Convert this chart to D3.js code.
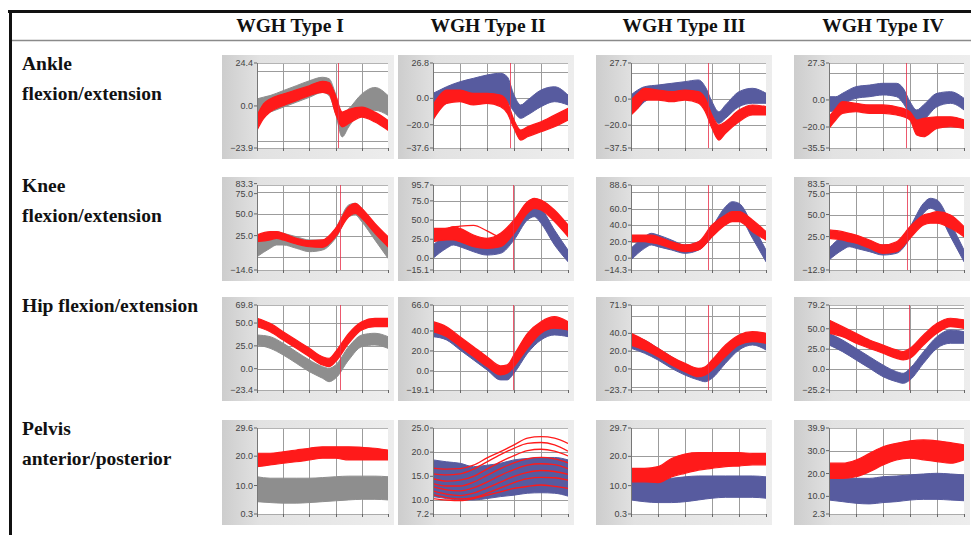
<!DOCTYPE html>
<html>
<head>
<meta charset="utf-8">
<script src="https://cdn.jsdelivr.net/npm/d3@7"></script>
<style>
  body { margin: 0; background: #fff; }
  svg { display: block; }
</style>
</head>
<body>
<div id="chart"></div>
<script>
// headings
var types = ["WGH Type I", "WGH Type II", "WGH Type III", "WGH Type IV"];
var joints = [["Ankle", "flexion/extension"], ["Knee", "flexion/extension"], ["Hip flexion/extension"], ["Pelvis", "anterior/posterior"]];

// % of gait cycle where each joint was sampled
var ankleX = [0, 5, 10, 20, 30, 40, 50, 55, 60, 65, 70, 80, 90, 100];
var kneeX = [0, 10, 15, 20, 30, 40, 50, 60, 70, 75, 80, 90, 100];
var hipX = [0, 10, 20, 30, 40, 50, 55, 60, 70, 80, 90, 100];
var pelvisX = [0, 10, 20, 30, 40, 50, 60, 70, 80, 90, 100];

// y range of every panel (min, max), one per type
var ankleDomain = [[-23.9, 24.4], [-37.6, 26.8], [-37.5, 27.7], [-35.5, 27.3]];
var kneeDomain = [[-14.6, 83.3], [-15.1, 95.7], [-14.3, 88.6], [-12.9, 83.5]];
var hipDomain = [[-23.4, 69.8], [-19.1, 66.0], [-23.7, 71.9], [-25.2, 79.2]];
var pelvisDomain = [[0.3, 29.6], [7.2, 25.0], [0.3, 29.7], [2.3, 39.9]];

// tick labels shown on the y axis
var ankleTicks = [[-23.9, 0, 24.4], [-37.6, -20, 0, 26.8], [-37.5, -20, 0, 27.7], [-35.5, -20, 0, 27.3]];
var kneeTicks = [[-14.6, 25, 50, 75, 83.3], [-15.1, 0, 25, 50, 75, 95.7], [-14.3, 0, 20, 40, 60, 88.6], [-12.9, 25, 50, 75, 83.5]];
var hipTicks = [[-23.4, 0, 25, 50, 69.8], [-19.1, 0, 20, 40, 66.0], [-23.7, 0, 20, 40, 71.9], [-25.2, 0, 25, 50, 79.2]];
var pelvisTicks = [[0.3, 10, 20, 29.6], [7.2, 10, 15, 20, 25.0], [0.3, 10, 20, 29.7], [2.3, 10, 20, 30, 39.9]];

// grid spacing
var ankleGrid = [20, 20, 20, 20];
var kneeGrid = [25, 25, 20, 25];
var hipGrid = [25, 20, 20, 25];
var pelvisGrid = [10, 5, 10, 10];

// normal reference band (lower / upper edge)
var ankleNormLo = [
  [-6, -5, -3.5, -0.7, 2.1, 4.9, 7.7, 5.9, -4.4, -17.6, -11.9, -3.5, -2.5, -5.3],
  [-8.8, -6.3, -3.8, 0.0, 1.3, 2.5, 1.3, -2.5, -10.1, -15.1, -12.6, -6.3, -2.5, -5.0],
  [-9.7, -7.1, -2.0, 1.9, 3.2, 4.5, 3.2, -2.0, -12.2, -18.6, -14.7, -5.8, -3.2, -3.2],
  [-8.7, -7.5, -3.7, 1.2, 2.4, 3.7, 2.4, -2.5, -11.1, -17.3, -14.8, -5.0, -2.5, -7.4]];
var ankleNormHi = [
  [4, 5, 5.9, 8.7, 11.5, 14.3, 16.3, 15.5, 6.8, -4.4, -1.6, 6.8, 10.5, 5.9],
  [3.8, 6.3, 8.8, 12.6, 15.2, 17.7, 19.0, 16.4, 2.5, -5.0, -1.3, 6.3, 8.8, 2.5],
  [3.2, 7.0, 9.5, 10.8, 12.1, 13.4, 14.7, 9.5, -2.0, -9.7, -4.5, 5.7, 8.3, 4.5],
  [2.4, 2.4, 4.9, 9.8, 11.0, 12.3, 12.3, 8.6, -1.3, -7.4, -3.7, 4.9, 6.1, 1.2]];
var kneeNormLo = [
  [0.7, 10.4, 14.2, 14.2, 10.4, 6.5, 8.4, 21.9, 46.8, 48.7, 41.0, 20.0, -1.1],
  [0.1, 13.2, 17.5, 15.2, 8.7, 4.4, 6.6, 24.0, 50.1, 54.4, 45.8, 17.5, -4.3],
  [-2.2, 11.9, 16.0, 13.9, 9.9, 5.9, 9.9, 26.0, 52.3, 56.3, 52.3, 24.1, -4.3],
  [-1.5, 9.8, 13.5, 11.7, 7.9, 4.1, 6.0, 23.0, 51.4, 57.1, 53.2, 24.9, -3.5]];
var kneeNormHi = [
  [21.9, 27.7, 29.5, 27.7, 23.8, 20.0, 20.0, 33.4, 60.3, 62.2, 56.4, 35.3, 14.2],
  [17.5, 30.5, 34.8, 32.7, 26.2, 21.8, 24.0, 41.3, 67.4, 71.8, 65.3, 37.0, 10.9],
  [11.9, 26.0, 30.1, 28.1, 22.0, 16.0, 19.9, 38.1, 62.3, 68.4, 66.4, 40.2, 9.9],
  [11.7, 24.9, 26.8, 24.9, 19.2, 15.5, 17.4, 36.2, 62.7, 68.4, 66.5, 40.1, 9.8]];
var hipNormLo = [
  [26.0, 22.3, 15.0, 5.9, -3.3, -10.5, -14.3, -10.5, 9.5, 24.1, 26.0, 22.3],
  [34.3, 31.0, 21.0, 11.0, 1.0, -9.0, -9.0, -2.3, 17.7, 31.0, 36.0, 34.3],
  [23.2, 17.6, 10.0, 0.7, -6.9, -12.5, -14.4, -10.6, 6.3, 21.3, 26.9, 21.3],
  [30.1, 21.9, 11.7, 1.5, -8.8, -15.0, -17.0, -12.9, 7.6, 26.0, 32.2, 32.2]];
var hipNormHi = [
  [36.9, 35.1, 27.8, 18.6, 9.5, 2.2, 0.4, 4.0, 24.1, 36.9, 38.8, 35.1],
  [47.7, 42.7, 32.7, 22.7, 12.7, 2.7, 2.7, 11.0, 31.0, 44.3, 47.7, 46.0],
  [38.2, 32.5, 23.2, 13.8, 4.4, -1.2, -1.2, 4.4, 19.4, 34.4, 40.1, 36.3],
  [44.4, 36.2, 26.0, 15.7, 5.5, -2.7, -4.7, 1.5, 21.9, 40.3, 48.5, 46.4]];
var pelvisNormLo = [
  [4.5, 4.2, 4.0, 4.0, 4.2, 4.5, 4.8, 5.1, 5.3, 5.3, 5.1],
  [10.8, 10.4, 10.1, 10.1, 10.4, 10.8, 11.1, 11.5, 11.6, 11.5, 10.9],
  [5.1, 4.5, 4.2, 4.2, 4.5, 5.1, 5.7, 6.0, 6.0, 6.0, 5.7],
  [8.4, 7.7, 7.0, 6.7, 7.3, 7.7, 8.4, 8.7, 8.7, 8.4, 8.1]];
var pelvisNormHi = [
  [13.0, 12.5, 12.5, 12.5, 12.5, 12.7, 13.0, 13.2, 13.2, 13.2, 13.0],
  [18.4, 18.0, 17.7, 17.0, 17.3, 17.7, 18.4, 18.7, 18.9, 18.9, 18.4],
  [12.5, 11.9, 11.9, 12.5, 13.0, 13.3, 13.3, 13.3, 13.3, 13.3, 13.0],
  [18.6, 17.9, 17.9, 17.9, 18.6, 18.9, 19.4, 19.8, 20.1, 19.8, 19.4]];

// WGH subjects, drawn as a red bundle (lower / upper edge)
var ankleRedLo = [
  [-13.8, -7.2, -3.5, 0.2, 3.0, 5.9, 7.7, 6.8, -4.4, -11.9, -10, -6.3, -9.1, -13.8],
  [-16.4, -8.8, -3.8, -2.5, -5.0, -3.8, -6.3, -11.3, -22.7, -31.6, -29.1, -25.3, -21.5, -16.4],
  [-12.2, -7.1, -0.7, -0.7, -2.0, -0.7, -3.2, -9.7, -22.4, -31.4, -26.2, -17.3, -12.2, -12.2],
  [-21.0, -14.8, -9.9, -8.7, -9.9, -9.9, -11.1, -12.4, -14.8, -25.9, -27.2, -21.0, -19.8, -21.0]];
var ankleRedHi = [
  [-5.4, 1.2, 4.0, 6.8, 9.1, 11.5, 14, 13.3, 5.9, -3.5, -2, -0.7, -3.5, -8.2],
  [-5.0, 2.5, 6.3, 6.3, 3.8, 3.8, 2.5, -2.5, -16.4, -24.0, -21.5, -17.7, -12.6, -7.6],
  [-0.7, 4.5, 8.3, 7.0, 5.7, 7.0, 5.7, 0.6, -12.2, -19.9, -17.3, -8.4, -4.5, -5.8],
  [-12.4, -6.2, -1.3, -2.5, -3.7, -3.7, -5.0, -6.2, -8.7, -14.8, -13.6, -12.4, -12.4, -14.8]];
var kneeRedLo = [
  [18.0, 20.0, 21.9, 20.0, 15.3, 12.2, 11.5, 23.8, 46.8, 50.7, 45.0, 27.7, 12.2],
  [21.8, 24.0, 24.0, 21.8, 15.2, 13.2, 15.2, 32.7, 58.8, 65.3, 63.1, 47.9, 28.3],
  [20.0, 20.0, 18.7, 17.2, 11.9, 7.9, 9.9, 26.0, 40.2, 44.2, 44.2, 32.1, 22.0],
  [23.0, 21.1, 19.2, 17.4, 11.7, 6.0, 7.9, 23.0, 38.1, 40.1, 40.1, 34.4, 24.9]];
var kneeRedHi = [
  [25.7, 29.5, 29.5, 27.7, 21.9, 19.2, 20.0, 33.4, 58.3, 62.2, 56.4, 39.2, 23.8],
  [39.2, 39.2, 41.3, 39.2, 30.5, 26.2, 32.7, 50.1, 73.9, 78.3, 76.1, 63.1, 43.5],
  [28.1, 28.1, 28.1, 26.0, 19.9, 16.0, 19.9, 40.2, 52.3, 56.3, 56.3, 46.2, 32.1],
  [32.5, 30.6, 28.7, 26.8, 21.1, 15.5, 19.2, 36.2, 49.5, 51.4, 53.2, 49.5, 36.2]];
var hipRedLo = [
  [46.0, 40.5, 31.4, 22.3, 13.1, 4.0, 2.2, 7.7, 27.8, 42.4, 46.0, 46.0],
  [39.3, 34.3, 24.3, 14.3, 4.3, -4.0, -2.3, 4.3, 22.7, 37.7, 42.7, 41.0],
  [26.9, 21.3, 13.8, 4.4, -3.1, -8.8, -6.9, -1.2, 13.8, 26.9, 30.6, 28.8],
  [44.4, 40.3, 32.2, 26.0, 19.9, 13.7, 11.7, 13.7, 30.1, 44.4, 52.6, 50.6]];
var hipRedHi = [
  [55.2, 49.7, 40.5, 31.4, 22.3, 13.1, 11.4, 18.6, 38.8, 51.5, 55.2, 55.2],
  [49.3, 44.3, 34.3, 24.3, 14.3, 5.0, 6.0, 16.0, 37.7, 49.3, 54.3, 49.3],
  [40.1, 32.5, 23.2, 13.8, 6.3, 0.7, 2.5, 10.0, 26.9, 38.2, 41.9, 40.1],
  [60.8, 52.6, 44.4, 36.2, 30.1, 24.0, 21.9, 26.0, 42.4, 56.7, 62.9, 60.8]];
var pelvisRedLo = [
  [16.4, 17.0, 17.6, 18.1, 18.7, 19.3, 19.3, 18.7, 18.7, 18.7, 18.7],
  null,
  [11.3, 11.3, 11.0, 13.0, 14.2, 15.3, 15.9, 16.5, 16.7, 17.1, 17.1],
  [17.9, 17.9, 18.6, 20.8, 23.7, 25.9, 26.7, 26.0, 25.2, 24.5, 26.0]];
var pelvisRedHi = [
  [21.0, 21.0, 21.5, 22.1, 22.7, 23.2, 23.2, 23.2, 23.0, 22.7, 22.1],
  null,
  [15.9, 15.9, 16.5, 19.3, 20.8, 21.3, 21.3, 21.3, 21.3, 21.0, 21.0],
  [24.5, 24.5, 25.9, 28.8, 31.7, 33.2, 34.3, 34.7, 34.3, 33.5, 32.5]];

// single red curves that stand out from the bundle
var kneeType2Lines = [[36, 39, 41, 42, 43, 36, 28, 46, 70, 76, 75, 61, 41]];
var pelvisType2Lines = [
  [16.7, 16.5, 16.6, 17.3, 18.8, 20.1, 21.5, 22.9, 23.2, 22.9, 21.8],
  [15.5, 15.3, 15.5, 16.5, 18.0, 19.5, 20.8, 21.8, 22.0, 21.5, 20.2],
  [14.5, 14.0, 14.2, 15.0, 16.5, 18.0, 19.3, 20.3, 20.6, 20.2, 19.2],
  [13.5, 13.0, 13.0, 13.8, 15.2, 16.6, 17.8, 18.6, 18.9, 18.6, 17.8],
  [12.8, 12.2, 12.0, 12.6, 13.8, 15.2, 16.4, 17.3, 17.6, 17.4, 16.6],
  [12.0, 11.3, 11.0, 11.5, 12.6, 13.8, 15.0, 15.8, 16.2, 16.0, 15.4],
  [11.2, 10.6, 10.3, 10.6, 11.5, 12.6, 13.7, 14.5, 14.8, 14.7, 14.2],
  [10.4, 10.1, 9.95, 10.4, 11.1, 11.8, 12.5, 12.9, 13.2, 12.9, 12.5]];

// toe-off marker (% gait cycle)
var toeOff = [[62, 57, 57, 57], [63, 59, 57, 57.5], [63, 59, 57, 59], [null, null, null, null]];

var rows = [
  { xs: ankleX, dom: ankleDomain, ticks: ankleTicks, grid: ankleGrid, nLo: ankleNormLo, nHi: ankleNormHi, rLo: ankleRedLo, rHi: ankleRedHi, lines: [null, null, null, null] },
  { xs: kneeX, dom: kneeDomain, ticks: kneeTicks, grid: kneeGrid, nLo: kneeNormLo, nHi: kneeNormHi, rLo: kneeRedLo, rHi: kneeRedHi, lines: [null, kneeType2Lines, null, null] },
  { xs: hipX, dom: hipDomain, ticks: hipTicks, grid: hipGrid, nLo: hipNormLo, nHi: hipNormHi, rLo: hipRedLo, rHi: hipRedHi, lines: [null, null, null, null] },
  { xs: pelvisX, dom: pelvisDomain, ticks: pelvisTicks, grid: pelvisGrid, nLo: pelvisNormLo, nHi: pelvisNormHi, rLo: pelvisRedLo, rHi: pelvisRedHi, lines: [null, pelvisType2Lines, null, null] }
];

var width = 971, height = 535;
var colX = [[257, 388], [433, 568], [631, 766], [829, 964]];
var rowY = [[63, 148], [185, 270], [305, 390], [428, 514]];
var headX = [290, 488, 684, 883];
var bandColor = ["#8e8e8e", "#575b9f", "#575b9f", "#575b9f"];
var red = "#ff1a1a";
var serifFont = "'Liberation Serif', serif";
var sansFont = "'Liberation Sans', sans-serif";

var svg = d3.select("#chart").append("svg")
    .attr("width", width)
    .attr("height", height);

var defs = svg.append("defs");
var grad = defs.append("linearGradient").attr("id", "panelGrad");
grad.append("stop").attr("offset", "0%").attr("stop-color", "#cdcdcd");
grad.append("stop").attr("offset", "22%").attr("stop-color", "#e2e2e2");
grad.append("stop").attr("offset", "100%").attr("stop-color", "#ededed");

svg.append("rect").attr("width", width).attr("height", height).attr("fill", "#fff");

// outer frame
svg.append("rect").attr("x", 8).attr("y", 10).attr("width", width - 8).attr("height", 3).attr("fill", "#111");
svg.append("rect").attr("x", 9).attr("y", 10).attr("width", 3).attr("height", height - 10).attr("fill", "#111");
svg.append("line")
    .attr("x1", 12).attr("x2", width)
    .attr("y1", 40.5).attr("y2", 40.5)
    .attr("stroke", "#8a8a8a").attr("stroke-width", 1.5);

svg.selectAll("text.head")
    .data(types)
    .enter()
    .append("text")
    .attr("class", "head")
    .attr("x", function(d, i) { return headX[i]; })
    .attr("y", 32)
    .attr("text-anchor", "middle")
    .style("font-family", serifFont)
    .style("font-weight", "bold")
    .style("font-size", "19.5px")
    .style("fill", "#111")
    .text(function(d) { return d; });

joints.forEach(function(lines, r) {
  lines.forEach(function(t, k) {
    svg.append("text")
        .attr("x", 22)
        .attr("y", rowY[r][0] + 7 + k * 30)
        .style("font-family", serifFont)
        .style("font-weight", "bold")
        .style("font-size", "19.5px")
        .style("fill", "#111")
        .text(t);
  });
});

var fmt = d3.format(".1f");

rows.forEach(function(row, r) {
  for (var c = 0; c < 4; c++) drawPanel(row, r, c);
});

function drawPanel(row, r, c) {
  var x0 = colX[c][0], x1 = colX[c][1], y0 = rowY[r][0], y1 = rowY[r][1];
  var dom = row.dom[c];
  var xs = row.xs;
  var x = d3.scaleLinear().domain([0, 100]).range([x0, x1]);
  var y = d3.scaleLinear().domain(dom).range([y1, y0]);
  var g = svg.append("g");

  g.append("rect")
      .attr("x", x0 - 35).attr("y", y0 - 8)
      .attr("width", x1 - x0 + 41).attr("height", y1 - y0 + 19)
      .attr("fill", "url(#panelGrad)");
  g.append("rect")
      .attr("x", x0).attr("y", y0)
      .attr("width", x1 - x0).attr("height", y1 - y0)
      .attr("fill", "#fff");

  var clipId = "clip" + r + c;
  defs.append("clipPath").attr("id", clipId)
    .append("rect")
      .attr("x", x0).attr("y", y0)
      .attr("width", x1 - x0).attr("height", y1 - y0);

  // grid
  var step = row.grid[c];
  var span = dom[1] - dom[0];
  var gy = d3.range(Math.ceil(dom[0] / step) * step, dom[1], step)
      .filter(function(v) { return v - dom[0] > span * 0.03 && dom[1] - v > span * 0.03; });
  g.selectAll("line.gy")
      .data(gy)
      .enter()
      .append("line")
      .attr("x1", x0).attr("x2", x1)
      .attr("y1", function(d) { return Math.round(y(d)) + 0.5; })
      .attr("y2", function(d) { return Math.round(y(d)) + 0.5; })
      .attr("stroke", "#9c9c9c").attr("stroke-width", 1);
  g.selectAll("line.gx")
      .data([20, 40, 60, 80])
      .enter()
      .append("line")
      .attr("x1", function(d) { return Math.round(x(d)) + 0.5; })
      .attr("x2", function(d) { return Math.round(x(d)) + 0.5; })
      .attr("y1", y0).attr("y2", y1)
      .attr("stroke", "#9c9c9c").attr("stroke-width", 1);
  g.append("line")
      .attr("x1", x0).attr("x2", x1)
      .attr("y1", y0 + 0.5).attr("y2", y0 + 0.5)
      .attr("stroke", "#b4b4b4");

  var plot = g.append("g").attr("clip-path", "url(#" + clipId + ")");

  var band = function(lo, hi) {
    return d3.area()
        .x(function(d, i) { return x(xs[i]); })
        .y0(function(d, i) { return y(lo[i]); })
        .y1(function(d, i) { return y(hi[i]); })
        .curve(d3.curveMonotoneX)(xs);
  };
  var line = d3.line()
      .x(function(d, i) { return x(xs[i]); })
      .y(function(d) { return y(d); })
      .curve(d3.curveMonotoneX);

  plot.append("path")
      .attr("d", band(row.nLo[c], row.nHi[c]))
      .attr("fill", bandColor[c])
      .attr("stroke", bandColor[c])
      .attr("stroke-width", 1);

  if (row.rLo[c]) {
    plot.append("path")
        .attr("d", band(row.rLo[c], row.rHi[c]))
        .attr("fill", red)
        .attr("stroke", red)
        .attr("stroke-width", 1.2);
  }

  if (row.lines[c]) {
    plot.selectAll("path.subj")
        .data(row.lines[c])
        .enter()
        .append("path")
        .attr("class", "subj")
        .attr("d", line)
        .attr("fill", "none")
        .attr("stroke", red)
        .attr("stroke-width", 1.3);
  }

  var toe = toeOff[r][c];
  if (toe != null) {
    g.append("line")
        .attr("x1", Math.round(x(toe)) + 0.5).attr("x2", Math.round(x(toe)) + 0.5)
        .attr("y1", y0).attr("y2", y1)
        .attr("stroke", "#e8304a").attr("stroke-width", 1)
        .attr("opacity", 0.8);
  }

  // y axis
  g.append("line")
      .attr("x1", x0 + 0.5).attr("x2", x0 + 0.5)
      .attr("y1", y0).attr("y2", y1 + 2)
      .attr("stroke", "#777");

  // label positions, pushed apart where two would collide
  var ticks = row.ticks[c].slice().sort(function(a, b) { return b - a; });
  var pos = ticks.map(function(v) { return y(v); });
  for (var i = 1; i < pos.length; i++) {
    var gap = pos[i] - pos[i - 1];
    if (gap < 10) {
      var d = (10 - gap) / 2;
      pos[i - 1] -= d;
      pos[i] += d;
    }
  }
  var yt = g.selectAll("g.yt")
      .data(ticks)
      .enter()
      .append("g")
      .attr("transform", function(d, i) { return "translate(0," + pos[i] + ")"; });
  yt.append("line")
      .attr("x1", x0 - 3).attr("x2", x0)
      .attr("stroke", "#666");
  yt.append("text")
      .attr("x", x0 - 4)
      .attr("dy", "0.33em")
      .attr("text-anchor", "end")
      .style("font-family", sansFont)
      .style("font-size", "9px")
      .style("fill", "#444")
      .text(function(d) { return fmt(d); });

  // x ticks (no labels)
  g.append("line")
      .attr("x1", x0).attr("x2", x1)
      .attr("y1", y1 + 0.5).attr("y2", y1 + 0.5)
      .attr("stroke", "#aaa");
  g.selectAll("line.xt")
      .data([0, 20, 40, 60, 80, 100])
      .enter()
      .append("line")
      .attr("x1", function(d) { return Math.round(x(d)) + 0.5; })
      .attr("x2", function(d) { return Math.round(x(d)) + 0.5; })
      .attr("y1", y1).attr("y2", y1 + 3)
      .attr("stroke", "#666");
}
</script>
</body>
</html>
